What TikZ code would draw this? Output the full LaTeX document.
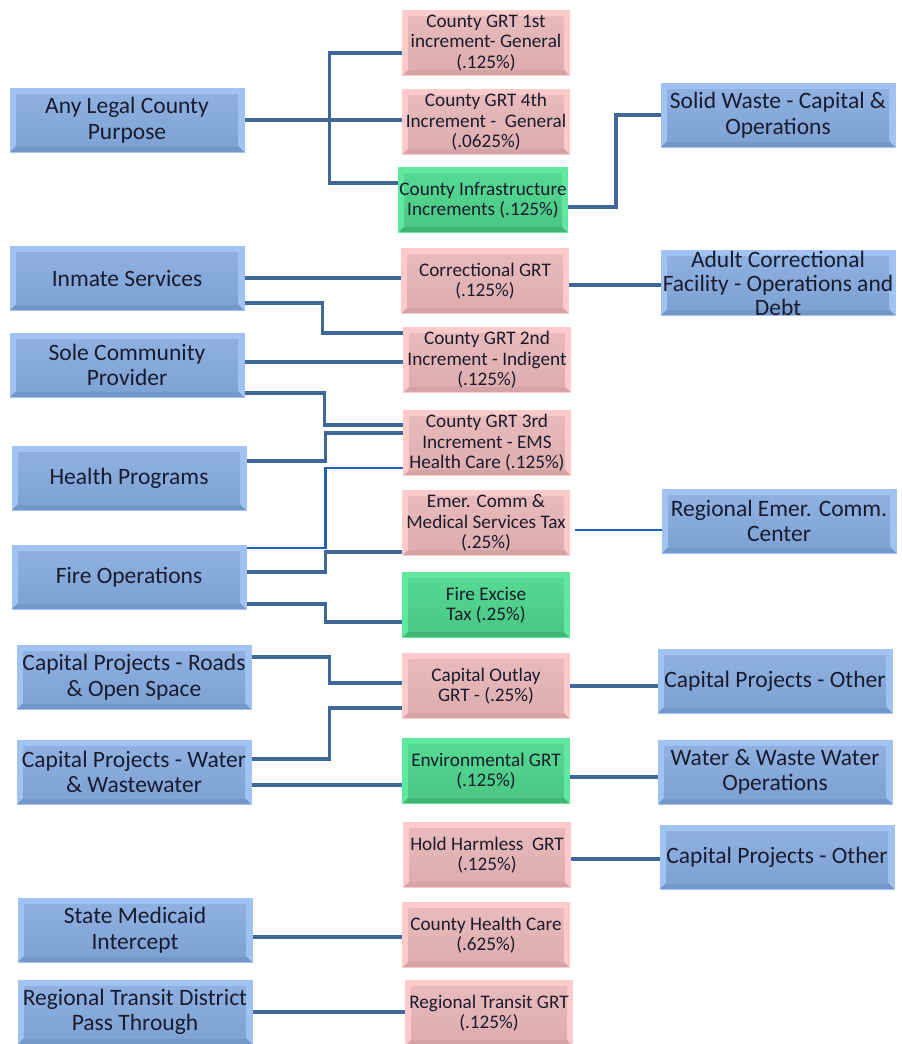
\documentclass[tikz,border=0pt]{standalone}
\usepackage{fontspec}
\setmainfont{Carlito}
\usetikzlibrary{positioning, calc}
\definecolor{cgbluelt}{HTML}{A0C3F2}
\definecolor{cgbluetop}{HTML}{8EB1E2}
\definecolor{cgbluebot}{HTML}{7FA2D4}
\definecolor{cgbluedk}{HTML}{7497CA}
\definecolor{cgpinklt}{HTML}{FDCACA}
\definecolor{cgpinktop}{HTML}{E9BABB}
\definecolor{cgpinkbot}{HTML}{DEAEAF}
\definecolor{cgpinkdk}{HTML}{D3A3A5}
\definecolor{cggreenlt}{HTML}{60E89F}
\definecolor{cggreentop}{HTML}{55D992}
\definecolor{cggreenbot}{HTML}{4AC784}
\definecolor{cggreendk}{HTML}{41B575}
\definecolor{cgline}{HTML}{3F6898}
\definecolor{cgbright}{HTML}{1E61BA}
\definecolor{cgtext}{HTML}{1B1B2E}

\tikzset{
  bevel/.style n args={4}{fill=#1, draw=#1, line width=1pt, path picture={
    \fill[#4] (path picture bounding box.south west) -- (path picture bounding box.south east)
      -- ([shift={(-6pt,6pt)}]path picture bounding box.south east)
      -- ([shift={(6pt,6pt)}]path picture bounding box.south west) -- cycle;
    \shade[top color=#2, bottom color=#3] ([shift={(6pt,-6pt)}]path picture bounding box.north west)
      rectangle ([shift={(-6pt,6pt)}]path picture bounding box.south east);}}
}

\begin{document}
\begin{tikzpicture}[x=1pt, y=-1pt, text=cgtext,
          purpose/.style={align=center, inner sep=1pt, minimum width=234pt, minimum height=64pt,
            font=\fontsize{23.5}{25.5}\selectfont, bevel={cgbluelt}{cgbluetop}{cgbluebot}{cgbluedk}},
          tax/.style={align=center, inner sep=1pt, minimum width=167pt, minimum height=65pt,
            font=\fontsize{19.2}{20.5}\selectfont, bevel={cgpinklt}{cgpinktop}{cgpinkbot}{cgpinkdk}},
          taxg/.style={tax, bevel={cggreenlt}{cggreentop}{cggreenbot}{cggreendk}},
          link/.style={draw=cgline, line width=3.5pt},
          linkb/.style={draw=cgbright, line width=2.8pt}]
  \useasboundingbox (0,0) rectangle (902,1044);
  % left: uses
  \node[purpose] (alp) at (127,120) {Any Legal County\\Purpose};
  \node[purpose] (inm) at (127,278) {Inmate Services};
  \node[purpose] (scp) at (127,365) {Sole Community\\Provider};
  \node[purpose] (hp) at (129,478) {Health Programs};
  \node[purpose] (fo) at (129,577) {Fire Operations};
  \node[purpose] (cpr) at (134,677) {Capital Projects - Roads\\\& Open Space};
  \node[purpose] (cpw) at (134,772) {Capital Projects - Water\\\& Wastewater};
  \node[purpose] (smi) at (135,930) {State Medicaid\\Intercept};
  \node[purpose] (rtd) at (135,1012) {Regional Transit District\\Pass Through};
  % middle: taxes
  \node[tax] (g1) at (486,43) {County GRT 1st\\increment- General\\(.125\%)};
  \node[tax] (g4) at (486,122) {County GRT 4th\\Increment -\ \ General\\(.0625\%)};
  \node[taxg] (inf) at (483,200) {County Infrastructure\\Increments (.125\%)};
  \node[tax] (cor) at (485,281) {Correctional GRT\\(.125\%)};
  \node[tax] (g2) at (487,360) {County GRT 2nd\\Increment - Indigent\\(.125\%)};
  \node[tax] (g3) at (487,443) {County GRT 3rd\\Increment - EMS\\Health Care (.125\%)};
  \node[tax] (emc) at (486,523) {Emer. Comm \&\\Medical Services Tax\\(.25\%)};
  \node[taxg] (fe) at (486,605) {Fire Excise\\Tax (.25\%)};
  \node[tax] (co) at (486,686) {Capital Outlay\\GRT - (.25\%)};
  \node[taxg] (env) at (486,771) {Environmental GRT\\(.125\%)};
  \node[tax] (hh) at (487,855) {Hold Harmless\ \ GRT\\(.125\%)};
  \node[tax] (chc) at (486,935) {County Health Care\\(.625\%)};
  \node[tax] (rtg) at (489,1013) {Regional Transit GRT\\(.125\%)};
  % right: uses
  \node[purpose] (sw) at (778,115) {Solid Waste - Capital \&\\Operations};
  \node[purpose, font=\fontsize{23.5}{24}\selectfont, inner sep=0pt] (acf) at (778,283) {Adult Correctional\\Facility - Operations and\\Debt};
  \node[purpose] (rec) at (779,521) {Regional Emer. Comm.\\Center};
  \node[purpose] (cpo) at (775,681) {Capital Projects - Other};
  \node[purpose] (ww) at (775,772) {Water \& Waste Water\\Operations};
  \node[purpose] (cpo2) at (777,857) {Capital Projects - Other};
  % connectors
  \draw[link] (alp.east) -- ++(85,0) coordinate (a1);
  \draw[link] ([yshift=-10pt]g1.west) -| (a1) |- ([yshift=17pt]inf.west);
  \draw[link] (a1) -- (a1 -| g4.west);
  \draw[link] ([yshift=-7pt]inf.east) -- ++(48,0) |- (sw.west);
  \draw[link] (inm.east) -- (inm.east -| cor.west);
  \draw[link] ([yshift=-25pt]inm.east) -- ++(78,0) |- ([yshift=27pt]g2.west);
  \draw[link] ([yshift=3pt]scp.east) -- ([yshift=3pt]scp.east -| g2.west);
  \draw[link] ([yshift=-28pt]scp.east) -- ++(80,0) |- ([yshift=18pt]g3.west);
  \draw[link] ([yshift=17pt]hp.east) -- ++(79,0) |- ([yshift=10pt]g3.west);
  \draw[linkb] ([yshift=29pt]fo.east) -- ++(79,0) |- ([yshift=-25pt]g3.west);
  \draw[link] ([yshift=5pt]fo.east) -- ++(79,0) |- ([yshift=-29pt]emc.west);
  \draw[link] ([yshift=-27pt]fo.east) -- ++(79,0) |- ([yshift=-17pt]fe.west);
  \draw[link] ([yshift=-4pt]cor.east) -- ([yshift=-4pt]cor.east -| acf.west);
  \draw[linkb] ([xshift=5pt, yshift=-7pt]emc.east) -- ([yshift=-7pt]emc.east -| rec.west);
  \draw[link] ([yshift=20pt]cpr.east) -- ++(78,0) |- ([yshift=3pt]co.west);
  \draw[link] ([yshift=13pt]cpw.east) -- ++(78,0) |- ([yshift=-22pt]co.west);
  \draw[link] ([yshift=-13pt]cpw.east) -- ([yshift=-13pt]cpw.east -| env.west);
  \draw[link] (co.east) -- (co.east -| cpo.west);
  \draw[link] ([yshift=-6pt]env.east) -- ([yshift=-6pt]env.east -| ww.west);
  \draw[link] ([yshift=-4pt]hh.east) -- ([yshift=-4pt]hh.east -| cpo2.west);
  \draw[link] ([yshift=-7pt]smi.east) -- ([yshift=-7pt]smi.east -| chc.west);
  \draw[link] (rtd.east) -- (rtd.east -| rtg.west);
\end{tikzpicture}
\end{document}
